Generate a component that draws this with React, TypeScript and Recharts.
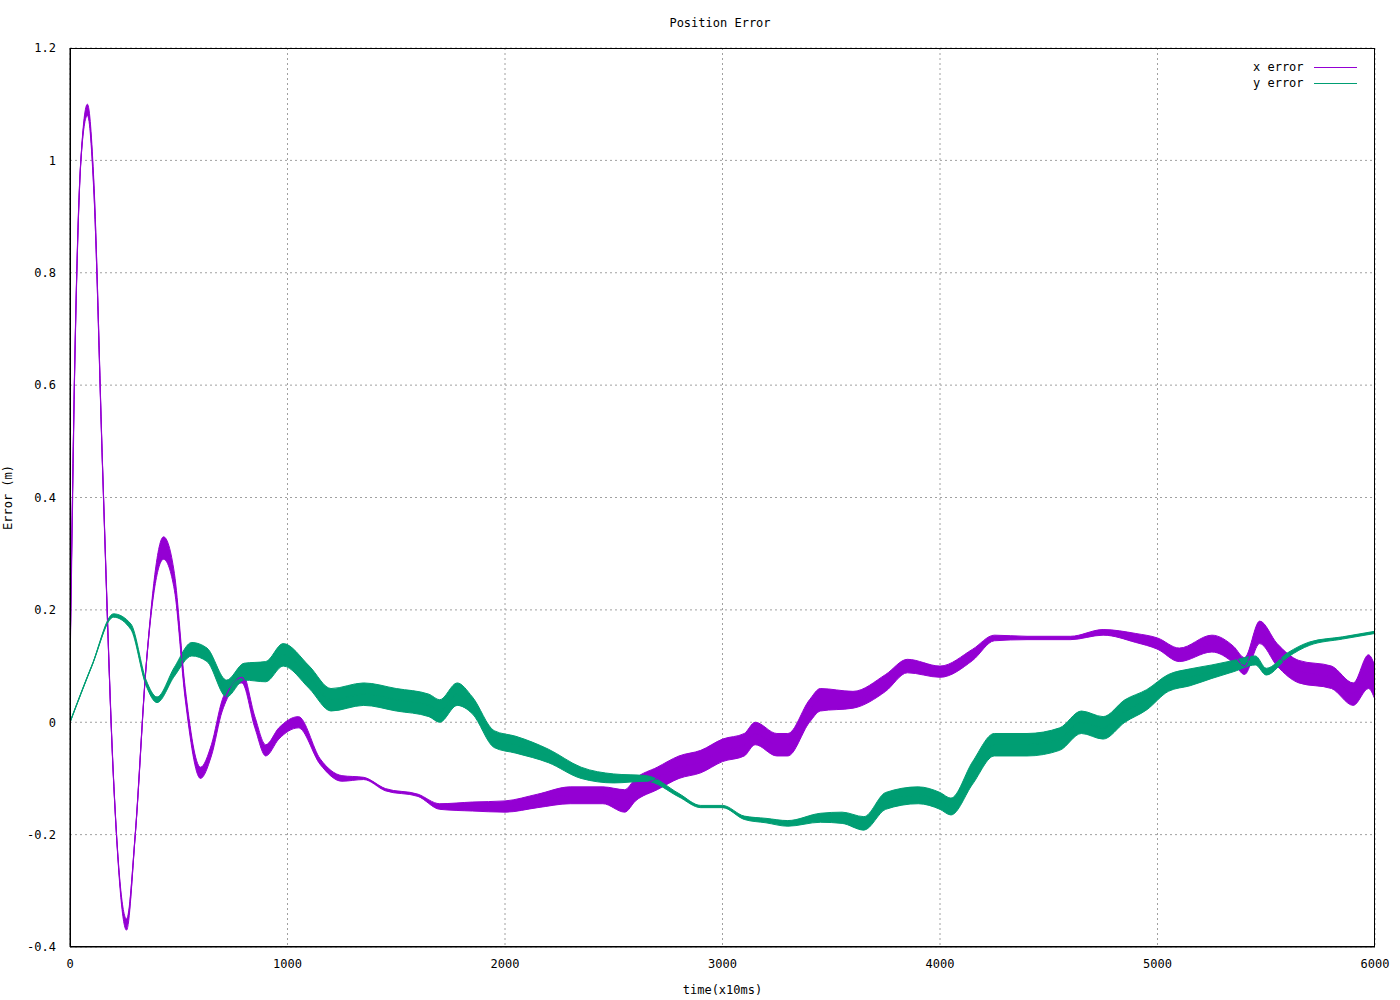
import React from 'react';
import { ComposedChart, Area, Line, XAxis, YAxis, CartesianGrid, Label } from 'recharts';

const xTimes = [0, 20, 50, 80, 110, 150, 200, 260, 300, 350, 430, 480, 530, 600, 650, 700, 790, 850, 900, 960, 1050, 1150, 1250, 1350, 1450, 1600, 1700, 1850, 2000, 2150, 2300, 2450, 2550, 2600, 2700, 2800, 2900, 3000, 3100, 3150, 3250, 3300, 3400, 3450, 3600, 3750, 3850, 4000, 4150, 4250, 4400, 4600, 4750, 4900, 5000, 5100, 5250, 5350, 5400, 5470, 5550, 5650, 5800, 5900, 5970, 6000];
const xError = [0.1, 0.6, 1.0, 1.09, 0.95, 0.45, -0.1, -0.36, -0.2, 0.1, 0.31, 0.25, 0.05, -0.09, -0.05, 0.03, 0.08, 0.0, -0.05, -0.02, 0.0, -0.07, -0.1, -0.1, -0.12, -0.13, -0.15, -0.15, -0.15, -0.14, -0.13, -0.13, -0.14, -0.12, -0.1, -0.08, -0.07, -0.05, -0.04, -0.02, -0.04, -0.04, 0.02, 0.04, 0.04, 0.07, 0.1, 0.09, 0.12, 0.15, 0.15, 0.15, 0.16, 0.15, 0.14, 0.12, 0.14, 0.12, 0.1, 0.16, 0.12, 0.09, 0.08, 0.05, 0.09, 0.07];
const xNoise = [0, 0, 0, 0.01, 0.01, 0, 0, 0.01, 0, 0, 0.02, 0.015, 0.01, 0.01, 0.01, 0.01, 0.01, 0.01, 0.01, 0.01, 0.01, 0.005, 0.005, 0.002, 0.002, 0.002, 0.005, 0.008, 0.01, 0.012, 0.015, 0.015, 0.02, 0.02, 0.02, 0.02, 0.02, 0.02, 0.02, 0.02, 0.02, 0.02, 0.02, 0.02, 0.015, 0.015, 0.012, 0.01, 0.01, 0.005, 0.003, 0.003, 0.005, 0.008, 0.01, 0.012, 0.015, 0.015, 0.015, 0.02, 0.02, 0.02, 0.02, 0.02, 0.03, 0.03];

const yTimes = [0, 100, 200, 280, 350, 400, 480, 560, 630, 720, 800, 900, 980, 1100, 1200, 1350, 1500, 1650, 1700, 1780, 1850, 1950, 2050, 2200, 2350, 2500, 2650, 2800, 2900, 3000, 3100, 3200, 3300, 3450, 3550, 3650, 3750, 3900, 4000, 4050, 4150, 4250, 4400, 4550, 4650, 4750, 4850, 4950, 5050, 5150, 5250, 5350, 5450, 5500, 5600, 5700, 5850, 6000];
const yError = [0.0, 0.1, 0.19, 0.17, 0.07, 0.04, 0.09, 0.13, 0.12, 0.06, 0.09, 0.09, 0.12, 0.08, 0.04, 0.05, 0.04, 0.03, 0.02, 0.05, 0.03, -0.03, -0.04, -0.06, -0.09, -0.1, -0.1, -0.13, -0.15, -0.15, -0.17, -0.175, -0.18, -0.17, -0.17, -0.18, -0.14, -0.13, -0.14, -0.15, -0.09, -0.04, -0.04, -0.03, 0.0, -0.01, 0.02, 0.04, 0.07, 0.08, 0.09, 0.1, 0.11, 0.09, 0.12, 0.14, 0.15, 0.16];
const yNoise = [0, 0, 0.003, 0.005, 0.005, 0.005, 0.008, 0.012, 0.012, 0.015, 0.015, 0.018, 0.02, 0.02, 0.02, 0.02, 0.02, 0.02, 0.02, 0.02, 0.015, 0.015, 0.015, 0.012, 0.01, 0.008, 0.005, 0.003, 0.002, 0.002, 0.003, 0.004, 0.005, 0.008, 0.01, 0.012, 0.015, 0.015, 0.015, 0.015, 0.02, 0.02, 0.02, 0.02, 0.02, 0.02, 0.02, 0.018, 0.015, 0.015, 0.012, 0.01, 0.008, 0.006, 0.004, 0.003, 0.002, 0.002];

const xTicks = [0, 1000, 2000, 3000, 4000, 5000, 6000];
const yTicks = [-0.4, -0.2, 0, 0.2, 0.4, 0.6, 0.8, 1, 1.2];

const xData = xTimes.map((t, i) => ({ t, v: xError[i], band: [xError[i] - xNoise[i], xError[i] + xNoise[i]] }));
const yData = yTimes.map((t, i) => ({ t, v: yError[i], band: [yError[i] - yNoise[i], yError[i] + yNoise[i]] }));

const PURPLE = '#9400d3';
const GREEN = '#009e73';
const FONT = '"DejaVu Sans Mono", monospace';

export default function App() {
  const tickStyle = { fontFamily: FONT, fontSize: 12, fill: '#000' };
  return (
    <div style={{ position: 'absolute', left: 0, top: 0, width: 1400, height: 1000, background: '#fff', fontFamily: FONT }}>
      <div style={{ position: 'absolute', top: 16, left: 0, width: 1440, textAlign: 'center', fontSize: 12 }}>Position Error</div>
      <ComposedChart width={1400} height={1000} margin={{ left: 0, right: 25, top: 48, bottom: 0 }}>
        <CartesianGrid stroke="#a0a0a0" strokeDasharray="2 3" />
        <XAxis type="number" dataKey="t" domain={[0, 6000]} ticks={xTicks} allowDataOverflow tick={tickStyle} tickLine={false} axisLine={{ stroke: '#000' }} height={53} tickMargin={6}>
          <Label value="time(x10ms)" position="insideBottom" offset={6} style={{ fontFamily: FONT, fontSize: 12, fill: '#000' }} />
        </XAxis>
        <YAxis type="number" domain={[-0.4, 1.2]} ticks={yTicks} allowDataOverflow tick={tickStyle} tickLine={false} axisLine={{ stroke: '#000' }} width={70} tickMargin={8}>
          <Label value="Error (m)" angle={-90} position="insideLeft" offset={8} style={{ fontFamily: FONT, fontSize: 12, fill: '#000', textAnchor: 'middle' }} />
        </YAxis>
        <Area data={xData} dataKey="band" type="monotone" stroke={PURPLE} strokeWidth={1} fill={PURPLE} fillOpacity={1} isAnimationActive={false} />
        <Line data={xData} dataKey="v" type="monotone" stroke={PURPLE} strokeWidth={1.2} dot={false} isAnimationActive={false} />
        <Area data={yData} dataKey="band" type="monotone" stroke={GREEN} strokeWidth={1} fill={GREEN} fillOpacity={1} isAnimationActive={false} />
        <Line data={yData} dataKey="v" type="monotone" stroke={GREEN} strokeWidth={1.2} dot={false} isAnimationActive={false} />
      </ComposedChart>
      <div style={{ position: 'absolute', left: 70, top: 48, width: 1305, height: 899, border: '1px solid #000', boxSizing: 'border-box', pointerEvents: 'none' }} />
      <div style={{ position: 'absolute', top: 59, left: 1253, fontSize: 12, lineHeight: '16px' }}>
        <div style={{ display: 'flex', alignItems: 'center' }}>x error<span style={{ display: 'inline-block', width: 43, height: 0, borderTop: `1px solid ${PURPLE}`, marginLeft: 10 }} /></div>
        <div style={{ display: 'flex', alignItems: 'center' }}>y error<span style={{ display: 'inline-block', width: 43, height: 0, borderTop: `1px solid ${GREEN}`, marginLeft: 10 }} /></div>
      </div>
    </div>
  );
}
